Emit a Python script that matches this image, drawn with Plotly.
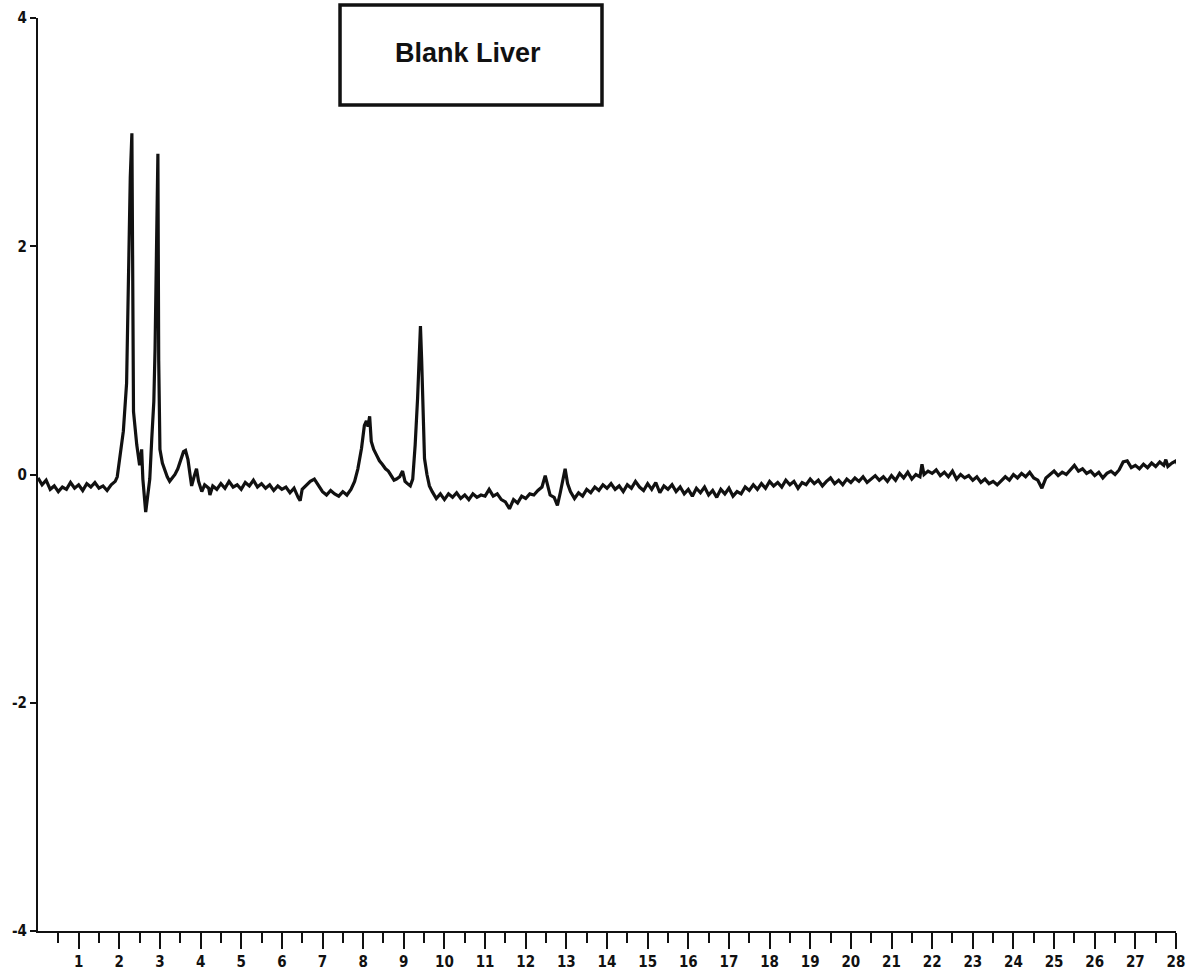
import plotly.graph_objects as go

# Retention time (min) and detector signal
time_min = [
    0.0, 0.1, 0.2, 0.3, 0.4, 0.5, 0.6, 0.7, 0.8, 0.9, 1.0, 1.1, 1.2, 1.3, 1.4, 1.5,
    1.6, 1.7, 1.8, 1.9, 1.95, 2.0, 2.05, 2.1, 2.18, 2.24, 2.27, 2.31, 2.33, 2.35, 2.43,
    2.5, 2.55, 2.58, 2.65, 2.7, 2.75, 2.8, 2.85, 2.88, 2.92, 2.95, 2.97, 3.0, 3.06,
    3.12, 3.18, 3.24, 3.3, 3.37, 3.44, 3.52, 3.58, 3.63, 3.69, 3.74, 3.78, 3.84, 3.9,
    3.95, 4.03, 4.1, 4.2, 4.23, 4.3, 4.4, 4.5, 4.6, 4.7, 4.8, 4.9, 5.0, 5.1, 5.2, 5.3,
    5.4, 5.5, 5.6, 5.7, 5.8, 5.9, 6.0, 6.1, 6.2, 6.3, 6.4, 6.45, 6.5, 6.6, 6.7, 6.8,
    6.9, 7.0, 7.1, 7.2, 7.3, 7.4, 7.5, 7.6, 7.7, 7.79, 7.87, 7.96, 8.03, 8.08, 8.12,
    8.16, 8.2, 8.26, 8.33, 8.4, 8.47, 8.55, 8.62, 8.7, 8.76, 8.82, 8.9, 8.97, 9.03,
    9.09, 9.16, 9.22, 9.28, 9.34, 9.38, 9.41, 9.44, 9.46, 9.51, 9.57, 9.63, 9.7, 9.8,
    9.9, 10.0, 10.1, 10.2, 10.3, 10.4, 10.5, 10.6, 10.7, 10.8, 10.9, 11.0, 11.1, 11.2,
    11.3, 11.4, 11.5, 11.6, 11.7, 11.8, 11.9, 12.0, 12.1, 12.2, 12.3, 12.4, 12.48,
    12.55, 12.6, 12.7, 12.78, 12.85, 12.92, 12.97, 13.03, 13.1, 13.2, 13.3, 13.4, 13.5,
    13.6, 13.7, 13.8, 13.9, 14.0, 14.1, 14.2, 14.3, 14.4, 14.5, 14.6, 14.7, 14.8, 14.9,
    15.0, 15.1, 15.2, 15.3, 15.4, 15.5, 15.6, 15.7, 15.8, 15.9, 16.0, 16.1, 16.2, 16.3,
    16.4, 16.5, 16.6, 16.7, 16.8, 16.9, 17.0, 17.1, 17.2, 17.3, 17.4, 17.5, 17.6, 17.7,
    17.8, 17.9, 18.0, 18.1, 18.2, 18.3, 18.4, 18.5, 18.6, 18.7, 18.8, 18.9, 19.0, 19.1,
    19.2, 19.3, 19.4, 19.5, 19.6, 19.7, 19.8, 19.9, 20.0, 20.1, 20.2, 20.3, 20.4, 20.5,
    20.6, 20.7, 20.8, 20.9, 21.0, 21.1, 21.2, 21.3, 21.4, 21.5, 21.6, 21.7, 21.75, 21.8,
    21.9, 22.0, 22.1, 22.2, 22.3, 22.4, 22.5, 22.6, 22.7, 22.8, 22.9, 23.0, 23.1, 23.2,
    23.3, 23.4, 23.5, 23.6, 23.7, 23.8, 23.9, 24.0, 24.1, 24.2, 24.3, 24.4, 24.5, 24.6,
    24.7, 24.8, 24.9, 25.0, 25.1, 25.2, 25.3, 25.4, 25.5, 25.6, 25.7, 25.8, 25.9, 26.0,
    26.1, 26.2, 26.3, 26.4, 26.5, 26.6, 26.7, 26.8, 26.9, 27.0, 27.1, 27.2, 27.3, 27.4,
    27.5, 27.6, 27.7, 27.75, 27.8, 27.9, 28.0, 28.05,
]
signal = [
    -0.03, -0.09, -0.05, -0.13, -0.10, -0.15, -0.11, -0.13, -0.07, -0.12, -0.09, -0.14,
    -0.08, -0.11, -0.07, -0.12, -0.10, -0.14, -0.09, -0.06, -0.02, 0.12, 0.22, 0.38,
    0.80, 2.25, 2.60, 2.99, 1.50, 0.55, 0.26, 0.08, 0.22, -0.04, -0.33, -0.20, -0.04,
    0.32, 0.64, 1.10, 2.00, 2.81, 1.00, 0.22, 0.10, 0.03, -0.02, -0.06, -0.03, 0.00,
    0.05, 0.15, 0.20, 0.21, 0.13, 0.00, -0.10, -0.02, 0.05, -0.06, -0.15, -0.09, -0.12,
    -0.18, -0.10, -0.13, -0.08, -0.12, -0.06, -0.11, -0.09, -0.13, -0.07, -0.10, -0.05,
    -0.11, -0.08, -0.12, -0.09, -0.14, -0.10, -0.13, -0.11, -0.16, -0.12, -0.20, -0.23,
    -0.13, -0.09, -0.06, -0.04, -0.10, -0.15, -0.18, -0.14, -0.17, -0.19, -0.15, -0.18,
    -0.13, -0.06, 0.05, 0.23, 0.43, 0.47, 0.42, 0.51, 0.29, 0.22, 0.17, 0.12, 0.09,
    0.05, 0.03, -0.01, -0.05, -0.04, -0.02, 0.03, -0.06, -0.08, -0.10, -0.04, 0.26,
    0.67, 1.05, 1.30, 1.00, 0.67, 0.14, 0.00, -0.10, -0.15, -0.21, -0.17, -0.22, -0.17,
    -0.20, -0.16, -0.21, -0.18, -0.22, -0.17, -0.20, -0.18, -0.19, -0.13, -0.19, -0.17,
    -0.22, -0.24, -0.30, -0.22, -0.25, -0.19, -0.21, -0.17, -0.18, -0.14, -0.11, -0.01,
    -0.12, -0.18, -0.20, -0.27, -0.16, -0.03, 0.05, -0.08, -0.15, -0.21, -0.16, -0.19,
    -0.13, -0.16, -0.11, -0.14, -0.09, -0.12, -0.08, -0.13, -0.10, -0.15, -0.09, -0.12,
    -0.06, -0.11, -0.14, -0.08, -0.13, -0.07, -0.16, -0.10, -0.13, -0.09, -0.15, -0.11,
    -0.17, -0.13, -0.19, -0.12, -0.16, -0.11, -0.18, -0.14, -0.20, -0.13, -0.17, -0.12,
    -0.19, -0.15, -0.17, -0.11, -0.14, -0.09, -0.13, -0.08, -0.12, -0.06, -0.10, -0.07,
    -0.11, -0.05, -0.09, -0.06, -0.12, -0.07, -0.09, -0.04, -0.08, -0.05, -0.10, -0.06,
    -0.03, -0.08, -0.05, -0.09, -0.04, -0.07, -0.03, -0.06, -0.02, -0.07, -0.04, -0.01,
    -0.05, -0.02, -0.06, -0.01, -0.05, 0.01, -0.03, 0.02, -0.04, 0.00, -0.02, 0.09,
    0.00, 0.03, 0.01, 0.04, -0.01, 0.02, -0.02, 0.03, -0.04, 0.00, -0.03, -0.01, -0.05,
    -0.02, -0.07, -0.04, -0.08, -0.06, -0.09, -0.05, -0.02, -0.05, 0.00, -0.03, 0.01,
    -0.02, 0.02, -0.03, -0.05, -0.12, -0.03, 0.00, 0.03, -0.01, 0.02, 0.00, 0.04, 0.08,
    0.03, 0.05, 0.01, 0.03, -0.01, 0.02, -0.03, 0.01, 0.03, 0.00, 0.04, 0.11, 0.12,
    0.06, 0.08, 0.05, 0.09, 0.06, 0.10, 0.07, 0.11, 0.08, 0.13, 0.07, 0.10, 0.12, 0.08,
]

x_tick_vals = list(range(1, 29))
x_tick_text = [str(v) for v in x_tick_vals]
x_minor_vals = [v + 0.5 for v in range(0, 28)]
y_tick_vals = [-4, -2, 0, 2, 4]
y_tick_text = ["-4", "-2", "0", "2", "4"]
title_text = "Blank Liver"

ink = "#111111"
tick_font = dict(family="Liberation Sans Narrow, DejaVu Sans Condensed, Arial Narrow, sans-serif",
                 size=15, color=ink, weight="bold")

fig = go.Figure()
fig.add_trace(go.Scatter(
    x=time_min, y=signal, mode="lines",
    line=dict(color=ink, width=3.2),
    showlegend=False, hoverinfo="x+y",
))

fig.update_layout(
    width=1189, height=976,
    margin=dict(l=38, r=13, t=18, b=45),
    paper_bgcolor="white", plot_bgcolor="white",
    showlegend=False,
    xaxis=dict(
        range=[0, 28], showgrid=False, zeroline=False, automargin=False,
        showline=True, linecolor=ink, linewidth=2,
        tickmode="array", tickvals=x_tick_vals, ticktext=x_tick_text,
        ticks="outside", ticklen=16, tickwidth=2, tickcolor=ink,
        minor=dict(tickmode="array", tickvals=x_minor_vals, ticks="outside",
                   ticklen=10, tickwidth=2, tickcolor=ink),
        tickfont=tick_font,
    ),
    yaxis=dict(
        range=[-4, 4], showgrid=False, zeroline=False, automargin=False,
        showline=True, linecolor=ink, linewidth=2,
        tickmode="array", tickvals=y_tick_vals, ticktext=y_tick_text,
        ticks="outside", ticklen=6, tickwidth=2, tickcolor=ink,
        tickfont=tick_font,
    ),
    shapes=[dict(
        type="rect", xref="paper", yref="paper",
        x0=0.2654, x1=0.4956, y0=0.9047, y1=1.0142,
        line=dict(color=ink, width=3.5), fillcolor="white", layer="above",
    )],
    annotations=[dict(
        text="<b>" + title_text + "</b>", xref="paper", yref="paper",
        x=0.3779, y=0.9617, xanchor="center", yanchor="middle",
        showarrow=False,
        font=dict(family="Liberation Sans, Arial, sans-serif", size=27, color=ink),
    )],
)

fig.write_html(
    "out.html",
    config={"displayModeBar": False},
    post_script="document.body.style.margin='0';document.body.style.overflow='hidden';",
)
